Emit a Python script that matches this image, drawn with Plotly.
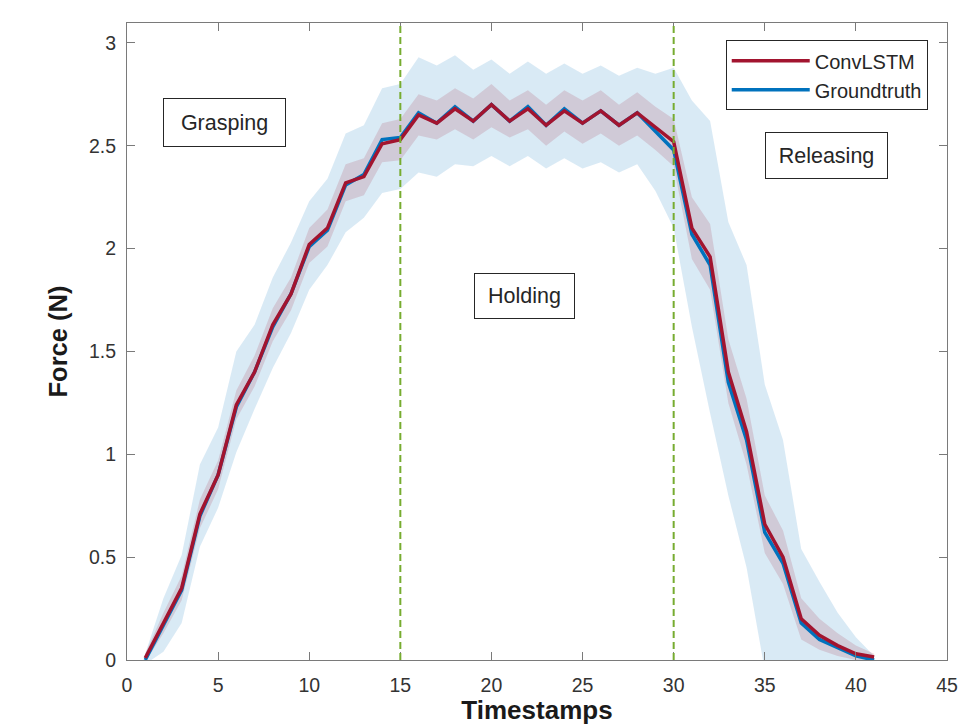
import plotly.graph_objects as go

# ---------------- data ----------------
timestamps = list(range(1, 42))

convlstm = [0.01, 0.18, 0.35, 0.71, 0.90, 1.24, 1.40, 1.63, 1.78, 2.02,
            2.10, 2.32, 2.35, 2.51, 2.53, 2.65, 2.61, 2.68, 2.62, 2.70,
            2.62, 2.68, 2.60, 2.67, 2.61, 2.67, 2.60, 2.66, 2.59, 2.52,
            2.10, 1.96, 1.40, 1.11, 0.66, 0.50, 0.20, 0.12, 0.07, 0.03, 0.015]

groundtruth = [0.00, 0.17, 0.34, 0.70, 0.90, 1.23, 1.40, 1.62, 1.78, 2.01,
               2.09, 2.31, 2.36, 2.53, 2.54, 2.66, 2.61, 2.69, 2.62, 2.70,
               2.62, 2.69, 2.60, 2.68, 2.61, 2.67, 2.60, 2.66, 2.57, 2.48,
               2.07, 1.92, 1.35, 1.07, 0.62, 0.47, 0.18, 0.10, 0.06, 0.02, 0.00]

gt_upper = [0.03, 0.30, 0.51, 0.95, 1.13, 1.50, 1.63, 1.86, 2.03, 2.23,
            2.34, 2.56, 2.60, 2.78, 2.80, 2.93, 2.89, 2.94, 2.87, 2.92,
            2.85, 2.91, 2.85, 2.90, 2.85, 2.89, 2.84, 2.88, 2.85, 2.88,
            2.72, 2.62, 2.13, 1.92, 1.34, 1.07, 0.54, 0.38, 0.23, 0.11, 0.02]

gt_lower = [-0.02, 0.04, 0.18, 0.55, 0.74, 1.01, 1.22, 1.42, 1.59, 1.80,
            1.92, 2.08, 2.15, 2.27, 2.29, 2.37, 2.35, 2.41, 2.40, 2.45,
            2.40, 2.45, 2.39, 2.44, 2.39, 2.42, 2.37, 2.41, 2.28, 2.10,
            1.62, 1.20, 0.80, 0.45, -0.05, -0.15, -0.15, -0.12, -0.08, -0.05, -0.02]

lstm_upper = [0.03, 0.23, 0.41, 0.78, 0.97, 1.31, 1.48, 1.71, 1.86, 2.10,
              2.19, 2.41, 2.44, 2.61, 2.63, 2.75, 2.72, 2.78, 2.73, 2.80,
              2.72, 2.77, 2.70, 2.77, 2.72, 2.77, 2.70, 2.76, 2.69, 2.63,
              2.25, 2.12, 1.56, 1.27, 0.80, 0.63, 0.30, 0.20, 0.13, 0.07, 0.03]

lstm_lower = [-0.01, 0.13, 0.29, 0.64, 0.83, 1.17, 1.33, 1.55, 1.70, 1.93,
              2.01, 2.23, 2.26, 2.42, 2.43, 2.55, 2.53, 2.58, 2.53, 2.59,
              2.54, 2.58, 2.50, 2.57, 2.51, 2.56, 2.50, 2.55, 2.48, 2.40,
              1.95, 1.80, 1.25, 0.95, 0.52, 0.37, 0.10, 0.05, 0.02, 0.00, 0.00]

phase_bounds = [15, 30]
phase_labels = ["Grasping", "Holding", "Releasing"]

x_ticks = [0, 5, 10, 15, 20, 25, 30, 35, 40, 45]
y_ticks = [0, 0.5, 1, 1.5, 2, 2.5, 3]
y_tick_text = ["0", "0.5", "1", "1.5", "2", "2.5", "3"]

x_title = "Timestamps"
y_title = "Force (N)"

# ---------------- styles ----------------
RED = "#A2142F"
BLUE = "#0072BD"
GREEN = "#77AC30"
FONT = "Liberation Sans, Arial, Helvetica, sans-serif"
AX = "#262626"

fig = go.Figure()

# groundtruth spread band
fig.add_trace(go.Scatter(
    x=timestamps + timestamps[::-1],
    y=gt_upper + gt_lower[::-1],
    fill="toself", fillcolor="rgba(0,114,189,0.15)",
    line=dict(width=0), mode="lines", hoverinfo="skip", showlegend=False))

# ConvLSTM spread band
fig.add_trace(go.Scatter(
    x=timestamps + timestamps[::-1],
    y=lstm_upper + lstm_lower[::-1],
    fill="toself", fillcolor="rgba(162,20,47,0.15)",
    line=dict(width=0), mode="lines", hoverinfo="skip", showlegend=False))

fig.add_trace(go.Scatter(x=timestamps, y=groundtruth, mode="lines",
                         name="Groundtruth", line=dict(color=BLUE, width=3.5),
                         legendrank=2))
fig.add_trace(go.Scatter(x=timestamps, y=convlstm, mode="lines",
                         name="ConvLSTM", line=dict(color=RED, width=3.5),
                         legendrank=1))

for xb in phase_bounds:
    fig.add_shape(type="line", x0=xb, x1=xb, y0=0, y1=1, xref="x", yref="paper",
                  line=dict(color=GREEN, width=2, dash="7px,4px"), layer="above")

# (x, y, box width, box height) of the phase label boxes
label_boxes = [(5.35, 2.615, 117, 43), (21.8, 1.77, 95, 40), (38.4, 2.455, 117, 41)]
for text, (ax_, ay_, bw, bh) in zip(phase_labels, label_boxes):
    fig.add_annotation(x=ax_, y=ay_, xref="x", yref="y", text=text,
                       showarrow=False, width=bw, height=bh,
                       font=dict(family=FONT, size=21.5, color="#262626"),
                       bgcolor="white", bordercolor="#262626", borderwidth=1,
                       borderpad=2)

axis_common = dict(showline=True, linecolor="#7a7a7a", linewidth=1, mirror="ticks",
                   ticks="inside", ticklen=8, tickcolor="#7a7a7a", tickwidth=1,
                   showgrid=False, zeroline=False,
                   tickfont=dict(family=FONT, size=19.5, color="#333333"))

fig.update_xaxes(range=[0, 45], tickvals=x_ticks, automargin=False,
                 ticklabelstandoff=8,
                 title=dict(text="<b>%s</b>" % x_title, standoff=22,
                            font=dict(family=FONT, size=26, color="#1a1a1a")),
                 **axis_common)
fig.update_yaxes(range=[0, 3.097], tickvals=y_ticks, ticktext=y_tick_text,
                 automargin=False, ticklabelstandoff=6,
                 title=dict(text="<b>%s</b>" % y_title, standoff=14,
                            font=dict(family=FONT, size=25.5, color="#1a1a1a")),
                 **axis_common)

# the page body has an 8px margin, so the figure is sized/offset for that
fig.update_layout(
    width=961, height=717,
    margin=dict(l=119, r=22, t=15, b=65),
    paper_bgcolor="white", plot_bgcolor="white",
    font=dict(family=FONT, color=AX),
    legend=dict(x=0.9765, y=0.973, xanchor="right", yanchor="top",
                bgcolor="white", bordercolor="#262626", borderwidth=1,
                font=dict(family=FONT, size=20, color="#262626"),
                itemwidth=78, traceorder="normal", tracegroupgap=0),
    showlegend=True,
)

fig.write_html("out.html")
